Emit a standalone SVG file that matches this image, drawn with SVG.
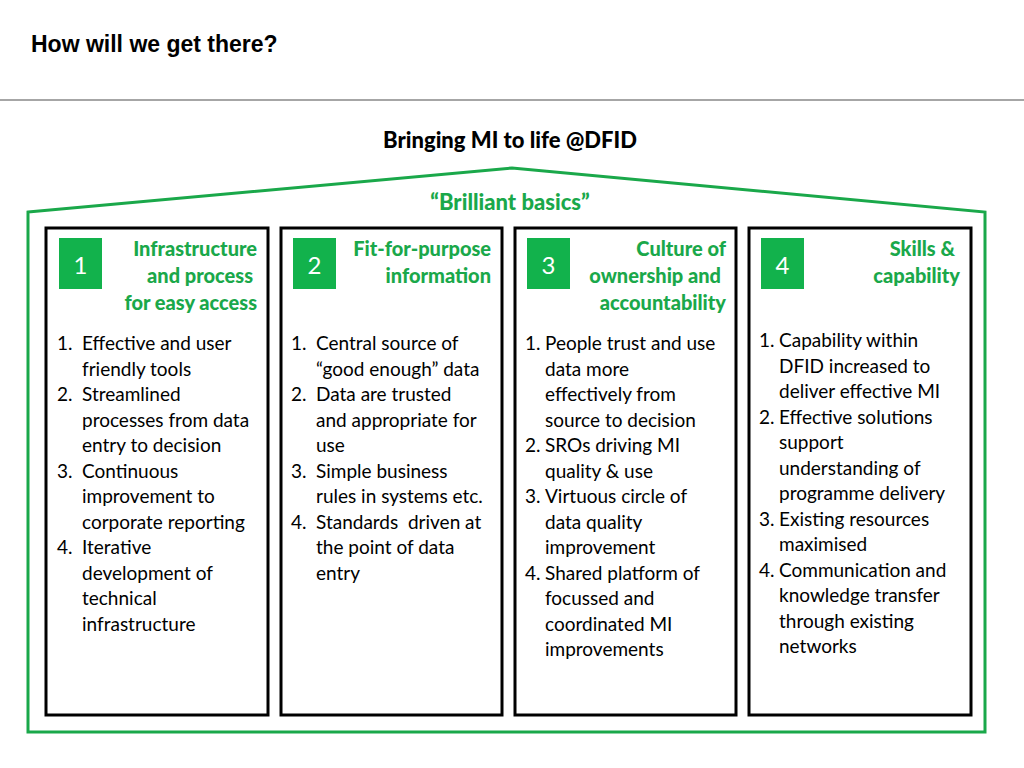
<svg xmlns="http://www.w3.org/2000/svg" width="1024" height="768" viewBox="0 0 1024 768">
<style>
.t{font-family:Lato,"Open Sans",sans-serif;font-size:19px;fill:#000}
.h{font-family:Lato,"Open Sans",sans-serif;font-size:20px;font-weight:900;fill:#1aa84a;text-anchor:end}
.n{font-family:Lato,"Open Sans",sans-serif;font-size:24px;fill:#fff;text-anchor:middle}
.box{fill:#fff;stroke:#000;stroke-width:3}
.sq{fill:#12b24c}
</style>
<rect width="1024" height="768" fill="#fff"/>
<text x="31" y="52" font-family="Liberation Sans,Arial,sans-serif" font-size="23" font-weight="bold">How will we get there?</text>
<line x1="0" y1="100" x2="1024" y2="100" stroke="#888" stroke-width="1.5"/>
<text x="510" y="148" text-anchor="middle" font-family="Lato,sans-serif" font-size="22" font-weight="900">Bringing MI to life @DFID</text>
<polygon points="28,212 512,168 985,212 985,732 28,732" fill="none" stroke="#1aa84a" stroke-width="3"/>
<text x="510" y="210" text-anchor="middle" font-family="Lato,sans-serif" font-size="22" font-weight="900" fill="#1aa84a">“Brilliant basics”</text>
<g id="node1">
<rect class="box" x="46" y="228" width="222" height="487"/>
<rect class="sq" x="59" y="238" width="43" height="51"/><text class="n" x="80.5" y="274">1</text>
<text class="h" x="257" y="256">Infrastructure</text><text class="h" x="253" y="283">and process</text><text class="h" x="257" y="310">for easy access</text>
<text class="t"><tspan x="57" y="350">1.</tspan><tspan x="82" y="350">Effective and user</tspan><tspan x="82" y="375.5">friendly tools</tspan><tspan x="57" y="401">2.</tspan><tspan x="82" y="401">Streamlined</tspan><tspan x="82" y="426.5">processes from data</tspan><tspan x="82" y="452">entry to decision</tspan><tspan x="57" y="477.5">3.</tspan><tspan x="82" y="477.5">Continuous</tspan><tspan x="82" y="503">improvement to</tspan><tspan x="82" y="528.5">corporate reporting</tspan><tspan x="57" y="554">4.</tspan><tspan x="82" y="554">Iterative</tspan><tspan x="82" y="579.5">development of</tspan><tspan x="82" y="605">technical</tspan><tspan x="82" y="630.5">infrastructure</tspan></text>
</g>
<g id="node2">
<rect class="box" x="281" y="228" width="221" height="487"/>
<rect class="sq" x="293" y="238" width="43" height="51"/><text class="n" x="314.5" y="274">2</text>
<text class="h" x="491" y="256">Fit-for-purpose</text><text class="h" x="491" y="283">information</text>
<text class="t"><tspan x="291" y="350">1.</tspan><tspan x="316" y="350">Central source of</tspan><tspan x="316" y="375.5">“good enough” data</tspan><tspan x="291" y="401">2.</tspan><tspan x="316" y="401">Data are trusted</tspan><tspan x="316" y="426.5">and appropriate for</tspan><tspan x="316" y="452">use</tspan><tspan x="291" y="477.5">3.</tspan><tspan x="316" y="477.5">Simple business</tspan><tspan x="316" y="503">rules in systems etc.</tspan><tspan x="291" y="528.5">4.</tspan><tspan x="316" y="528.5" xml:space="preserve">Standards  driven at</tspan><tspan x="316" y="554">the point of data</tspan><tspan x="316" y="579.5">entry</tspan></text>
</g>
<g id="node3">
<rect class="box" x="515" y="228" width="221" height="487"/>
<rect class="sq" x="527" y="238" width="43" height="51"/><text class="n" x="548.5" y="274">3</text>
<text class="h" x="726" y="256">Culture of</text><text class="h" x="721" y="283">ownership and</text><text class="h" x="726" y="310">accountability</text>
<text class="t"><tspan x="525" y="350">1.</tspan><tspan x="545" y="350">People trust and use</tspan><tspan x="545" y="375.5">data more</tspan><tspan x="545" y="401">effectively from</tspan><tspan x="545" y="426.5">source to decision</tspan><tspan x="525" y="452">2.</tspan><tspan x="545" y="452">SROs driving MI</tspan><tspan x="545" y="477.5">quality &amp; use</tspan><tspan x="525" y="503">3.</tspan><tspan x="545" y="503">Virtuous circle of</tspan><tspan x="545" y="528.5">data quality</tspan><tspan x="545" y="554">improvement</tspan><tspan x="525" y="579.5">4.</tspan><tspan x="545" y="579.5">Shared platform of</tspan><tspan x="545" y="605">focussed and</tspan><tspan x="545" y="630.5">coordinated MI</tspan><tspan x="545" y="656">improvements</tspan></text>
</g>
<g id="node4">
<rect class="box" x="749" y="228" width="222" height="487"/>
<rect class="sq" x="761" y="238" width="43" height="51"/><text class="n" x="782.5" y="274">4</text>
<text class="h" x="955" y="256">Skills &amp;</text><text class="h" x="960" y="283">capability</text>
<text class="t"><tspan x="759" y="347">1.</tspan><tspan x="779" y="347">Capability within</tspan><tspan x="779" y="372.5">DFID increased to</tspan><tspan x="779" y="398">deliver effective MI</tspan><tspan x="759" y="423.5">2.</tspan><tspan x="779" y="423.5">Effective solutions</tspan><tspan x="779" y="449">support</tspan><tspan x="779" y="474.5">understanding of</tspan><tspan x="779" y="500">programme delivery</tspan><tspan x="759" y="525.5">3.</tspan><tspan x="779" y="525.5">Existing resources</tspan><tspan x="779" y="551">maximised</tspan><tspan x="759" y="576.5">4.</tspan><tspan x="779" y="576.5">Communication and</tspan><tspan x="779" y="602">knowledge transfer</tspan><tspan x="779" y="627.5">through existing</tspan><tspan x="779" y="653">networks</tspan></text>
</g>
<g id="connectors"/>
</svg>
